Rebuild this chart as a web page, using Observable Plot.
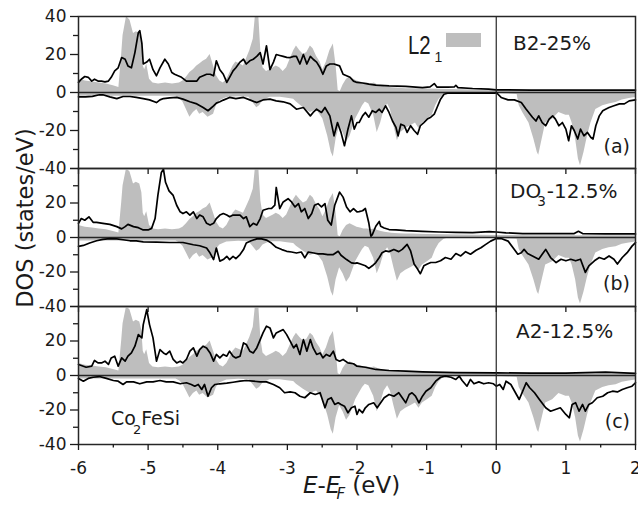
<!DOCTYPE html>
<html><head><meta charset="utf-8">
<script src="https://cdn.jsdelivr.net/npm/d3@7"></script>
<script src="https://cdn.jsdelivr.net/npm/@observablehq/plot@0.6"></script>
<style>
body{margin:0;background:#fff;}
#chart{position:relative;width:638px;height:505px;overflow:hidden;background:#fff;}
</style>
</head><body><div id="chart"></div>
<script>
// ---- DATA (energy E-EF in eV, DOS in states/eV) ----
// L2_1 reference (gray), spin up / spin down - identical in all three panels
const L21_up = [[-6,7],[-5.9,6],[-5.8,5.5],[-5.7,5],[-5.6,4.5],[-5.5,3.5],[-5.42,2.6],[-5.38,20],[-5.36,30],[-5.31,40],[-5.26,38],[-5.21,31],[-5.17,32],[-5.12,31],[-5.09,26],[-5.07,14],[-5.05,12],[-5.02,15],[-4.98,7],[-4.93,5],[-4.85,4.5],[-4.75,5],[-4.65,4.5],[-4.55,5],[-4.5,6],[-4.45,8],[-4.4,10.5],[-4.35,12],[-4.3,14],[-4.26,15],[-4.21,16.5],[-4.16,17.5],[-4.11,20],[-4.06,14],[-4.02,9],[-3.97,6],[-3.92,5],[-3.87,7],[-3.83,10],[-3.78,14],[-3.74,16],[-3.68,15],[-3.63,14],[-3.59,17.5],[-3.54,22],[-3.49,28],[-3.46,40],[-3.41,40],[-3.38,21],[-3.35,13],[-3.3,11],[-3.25,12],[-3.2,13],[-3.16,14],[-3.11,13],[-3.06,11],[-3.01,13],[-2.96,17.5],[-2.91,22],[-2.87,24.5],[-2.82,22],[-2.77,20],[-2.72,21],[-2.67,24.5],[-2.63,23],[-2.58,19],[-2.53,16],[-2.49,12],[-2.44,16],[-2.39,22],[-2.34,25.5],[-2.3,14],[-2.27,1],[-2.24,0.5],[-2.2,4],[-2.15,7],[-2.1,8],[-2.05,7],[-2,6],[-1.95,5.5],[-1.9,5],[-1.85,5],[-1.8,4.5],[-1.75,5],[-1.7,4],[-1.65,3.5],[-1.6,3],[-1.5,2.5],[-1.4,2.2],[-1.3,2],[-1.2,2],[-1,1.8],[-0.5,1.5],[0,1.2],[0.5,1],[1,1],[1.5,1],[2,1]];
const L21_down = [[-6,-2],[-5.5,-2],[-5,-2],[-4.6,-2],[-4.55,-3],[-4.5,-5],[-4.45,-9],[-4.4,-13],[-4.35,-10.5],[-4.3,-9],[-4.26,-11.5],[-4.21,-10.5],[-4.14,-13],[-4.06,-11.4],[-4.02,-7],[-3.97,-4.4],[-3.87,-2.6],[-3.7,-2.2],[-3.55,-2.5],[-3.48,-6],[-3.44,-8],[-3.4,-7],[-3.35,-4.4],[-3.25,-2.5],[-3.1,-2.5],[-3,-3],[-2.91,-3.5],[-2.87,-5],[-2.77,-8],[-2.67,-10.5],[-2.58,-9],[-2.49,-14],[-2.42,-23],[-2.37,-31.5],[-2.34,-34],[-2.3,-24.5],[-2.25,-17.5],[-2.2,-21],[-2.15,-26],[-2.1,-23],[-2.05,-17.5],[-2.02,-14],[-1.97,-10.5],[-1.92,-7],[-1.88,-5],[-1.83,-6],[-1.76,-12],[-1.71,-21],[-1.66,-16],[-1.61,-9],[-1.56,-6],[-1.52,-9],[-1.47,-17.5],[-1.42,-25.4],[-1.37,-21],[-1.3,-19],[-1.23,-17.5],[-1.16,-16],[-1.11,-19],[-1.06,-16],[-0.99,-14],[-0.92,-12],[-0.87,-7],[-0.82,-3.5],[-0.75,-1],[-0.7,-0.5],[0,-0.5],[0.3,-1],[0.33,-7],[0.38,-10.5],[0.47,-16],[0.54,-24.5],[0.59,-31.6],[0.61,-33],[0.66,-24.5],[0.71,-16],[0.81,-14],[0.9,-10.5],[1,-12],[1.05,-12],[1.09,-16],[1.14,-24.5],[1.18,-35],[1.21,-38.6],[1.26,-31.6],[1.31,-23],[1.36,-16],[1.43,-9],[1.53,-7],[1.62,-6],[1.72,-5.3],[1.81,-3.9],[1.91,-3.2],[2,-2.6]];

// (a) B2-25%
const B2_up = [[-6,5.3],[-5.96,7],[-5.91,8.4],[-5.86,8],[-5.81,6],[-5.77,7],[-5.72,6],[-5.67,6],[-5.62,5.6],[-5.57,6],[-5.53,8],[-5.48,11.4],[-5.43,13],[-5.38,18.4],[-5.33,17.5],[-5.29,14],[-5.24,13],[-5.19,21],[-5.14,31.6],[-5.12,32.5],[-5.09,26],[-5.07,15],[-5.02,16],[-4.98,17.5],[-4.93,12],[-4.88,8.8],[-4.83,13],[-4.76,17.5],[-4.71,15],[-4.66,10.5],[-4.62,9.6],[-4.57,8.8],[-4.52,8],[-4.45,6],[-4.38,6],[-4.3,6],[-4.26,8],[-4.21,8.8],[-4.16,9.6],[-4.11,9.6],[-4.06,8.8],[-4.02,16.7],[-3.97,12],[-3.92,9.6],[-3.87,5.3],[-3.83,8],[-3.78,11.4],[-3.74,13],[-3.68,16],[-3.63,17.5],[-3.59,15],[-3.54,16.7],[-3.49,17.5],[-3.44,19],[-3.39,21],[-3.35,15],[-3.3,24.6],[-3.25,12],[-3.2,16],[-3.16,20],[-3.11,19.5],[-3.06,19],[-3.01,18.5],[-2.96,18.4],[-2.91,19],[-2.87,19],[-2.82,15],[-2.77,20],[-2.72,15],[-2.67,19],[-2.63,17.5],[-2.58,16],[-2.53,13],[-2.49,9.6],[-2.44,14],[-2.39,15],[-2.33,15],[-2.25,14],[-2.2,9.6],[-2.15,8.8],[-2.1,8],[-2.05,6],[-2,5.3],[-1.92,5],[-1.83,4.4],[-1.73,3.9],[-1.54,3.5],[-1.3,3.2],[-1.06,2.6],[-0.95,3],[-0.89,4.7],[-0.85,2.8],[-0.7,2.8],[-0.6,3],[-0.58,3.8],[-0.55,2.6],[-0.34,2.1],[-0.11,1.8],[0,1.4],[0.5,1.3],[1,1.3],[1.5,1.3],[2,1.3]];
const B2_down = [[-6,-2.3],[-5.9,-2.3],[-5.8,-2],[-5.7,-1.2],[-5.65,-1.2],[-5.55,-2.3],[-5.45,-3.2],[-5.36,-2.1],[-5.26,-2.1],[-5.17,-2.6],[-5.07,-3.2],[-4.98,-3.9],[-4.88,-5.3],[-4.83,-3.9],[-4.78,-3.2],[-4.69,-2.8],[-4.59,-2.6],[-4.5,-3.5],[-4.4,-4.9],[-4.3,-6],[-4.21,-7.9],[-4.14,-9.6],[-4.06,-7],[-4.02,-5.6],[-3.97,-4.9],[-3.92,-4],[-3.83,-2.6],[-3.74,-3.2],[-3.63,-2.6],[-3.54,-3.9],[-3.44,-5.3],[-3.35,-3.9],[-3.25,-3.5],[-3.16,-4.4],[-3.06,-4.9],[-2.96,-6],[-2.87,-8.8],[-2.77,-7.9],[-2.67,-12.3],[-2.63,-10.5],[-2.58,-8.8],[-2.51,-10.5],[-2.46,-7.9],[-2.39,-12.3],[-2.33,-22.8],[-2.28,-15.8],[-2.23,-21],[-2.18,-28],[-2.13,-19.3],[-2.08,-12.3],[-2.04,-19.3],[-2,-15.8],[-1.97,-15.8],[-1.92,-12.3],[-1.88,-10.5],[-1.83,-13],[-1.78,-9.6],[-1.73,-10.5],[-1.68,-8.8],[-1.64,-10.5],[-1.59,-7],[-1.54,-10.5],[-1.49,-15],[-1.44,-18.4],[-1.41,-22.8],[-1.37,-16.7],[-1.32,-17.5],[-1.28,-21],[-1.23,-17.5],[-1.18,-20],[-1.13,-22],[-1.09,-17.5],[-1.04,-15.8],[-0.99,-14],[-0.94,-13],[-0.89,-11.4],[-0.85,-7.9],[-0.8,-3.5],[-0.75,-0.9],[-0.7,-0.4],[-0.02,-0.4],[0,0],[0.07,-2.6],[0.17,-3.9],[0.26,-3.9],[0.36,-5.3],[0.43,-8.8],[0.52,-13],[0.57,-15],[0.61,-12.3],[0.66,-15.8],[0.71,-17.5],[0.76,-14],[0.81,-12.3],[0.85,-14],[0.9,-17.5],[0.95,-15.8],[1,-19.3],[1.04,-25.4],[1.08,-17.5],[1.12,-20],[1.17,-24.5],[1.21,-19.3],[1.26,-22.8],[1.31,-21],[1.36,-23.7],[1.39,-24.5],[1.43,-17.5],[1.48,-12.3],[1.53,-9.6],[1.57,-8.8],[1.62,-7.9],[1.69,-7],[1.77,-6],[1.84,-6],[1.91,-4.4],[2,-3.9]];

// (b) DO3-12.5%
const DO3_up = [[-6,8.2],[-5.96,11],[-5.91,10],[-5.85,12],[-5.79,8.8],[-5.74,8.8],[-5.65,8.2],[-5.55,7.6],[-5.45,6.3],[-5.38,5],[-5.33,6.3],[-5.29,7.6],[-5.21,6.3],[-5.14,5.7],[-5.07,4.4],[-5,4.4],[-4.95,5.3],[-4.9,11],[-4.86,24.4],[-4.81,37.7],[-4.78,39.6],[-4.75,32],[-4.7,27],[-4.64,24.4],[-4.59,18.7],[-4.54,14.9],[-4.5,13.9],[-4.45,14.9],[-4.4,13],[-4.35,14.9],[-4.3,11],[-4.26,13],[-4.21,12],[-4.16,8.2],[-4.11,7.2],[-4.06,8.2],[-4.02,11],[-3.97,13],[-3.92,13.9],[-3.87,13],[-3.83,12],[-3.78,13],[-3.74,13],[-3.68,13],[-3.63,11],[-3.59,12],[-3.54,6.3],[-3.49,8.2],[-3.44,7.2],[-3.39,11],[-3.35,15.8],[-3.27,16.8],[-3.23,16.8],[-3.18,18.7],[-3.16,29],[-3.11,16.8],[-3.06,20.6],[-2.99,22.5],[-2.94,20.6],[-2.89,17.7],[-2.84,19.6],[-2.8,14.9],[-2.75,16.8],[-2.7,11],[-2.65,13.9],[-2.61,18.7],[-2.56,19.6],[-2.51,17.7],[-2.46,19.6],[-2.42,10],[-2.37,7.2],[-2.32,18.7],[-2.25,26.3],[-2.2,23.4],[-2.15,17.7],[-2.1,14.9],[-2.05,16.8],[-2,14.9],[-1.97,15],[-1.92,15.5],[-1.88,16.8],[-1.83,8.4],[-1.8,0.8],[-1.78,1.7],[-1.73,6.5],[-1.68,9.3],[-1.66,6.5],[-1.61,5.5],[-1.54,4.6],[-1.44,4.4],[-1.3,4],[-1.06,3.6],[-0.82,3.2],[-0.58,3],[-0.34,2.8],[-0.1,3.4],[0,3.2],[0.14,2.7],[0.38,2.3],[0.61,2.3],[1.12,2.3],[1.18,3.6],[1.24,2.3],[1.57,2.1],[2,2.1]];
const DO3_down = [[-6,-5.1],[-5.93,-4.6],[-5.84,-3.2],[-5.74,-1.9],[-5.65,-1.1],[-5.55,-0.6],[-5.45,-0.8],[-5.36,-1.3],[-5.26,-1.9],[-5.17,-2],[-5.07,-2.5],[-4.88,-2.7],[-4.69,-2.9],[-4.5,-2.9],[-4.35,-4.2],[-4.26,-4.8],[-4.16,-6.1],[-4.11,-9],[-4.06,-12.8],[-4.02,-6.1],[-3.97,-13.7],[-3.92,-12.8],[-3.87,-10.9],[-3.83,-12.8],[-3.78,-10.9],[-3.74,-12.2],[-3.68,-9.9],[-3.63,-7],[-3.59,-3.2],[-3.52,-1.9],[-3.44,-0.8],[-3.37,-0.8],[-3.3,-1.5],[-3.23,-3.2],[-3.16,-5.7],[-3.08,-7],[-3.01,-8],[-2.94,-8.4],[-2.87,-9],[-2.8,-8.4],[-2.75,-11.8],[-2.7,-8.4],[-2.62,-9],[-2.56,-9.5],[-2.49,-9.5],[-2.42,-9.9],[-2.34,-9.9],[-2.27,-8],[-2.23,-10.3],[-2.15,-12.8],[-2.08,-14.7],[-2.03,-15],[-2,-14.7],[-1.95,-15.4],[-1.88,-16.4],[-1.83,-17.9],[-1.78,-16.4],[-1.73,-14.5],[-1.68,-11.6],[-1.64,-8.8],[-1.59,-7.8],[-1.54,-8.2],[-1.47,-6.9],[-1.4,-8.2],[-1.35,-6.9],[-1.28,-4],[-1.23,-7.8],[-1.18,-15.4],[-1.13,-18.3],[-1.09,-21],[-1.04,-16.4],[-0.99,-15.4],[-0.94,-14.5],[-0.87,-14.5],[-0.8,-13.5],[-0.73,-11.6],[-0.65,-12.6],[-0.58,-9.3],[-0.51,-10.7],[-0.44,-8.2],[-0.37,-9.7],[-0.29,-7.4],[-0.22,-5.9],[-0.15,-4],[-0.08,-2.1],[0,-0.6],[0.07,-0.6],[0.17,-2.1],[0.26,-6.9],[0.31,-9.7],[0.36,-8.8],[0.4,-6.9],[0.45,-9.3],[0.52,-10.7],[0.61,-12.6],[0.66,-9.7],[0.71,-6.9],[0.78,-11.6],[0.86,-14.5],[0.93,-12.6],[1,-13.5],[1.07,-12.6],[1.14,-13.5],[1.21,-12.6],[1.28,-20.2],[1.33,-16.4],[1.41,-13.5],[1.48,-11.6],[1.55,-12.6],[1.62,-10.7],[1.69,-12.6],[1.74,-15.4],[1.81,-11.6],[1.88,-8.8],[1.95,-5],[2,-3]];

// (c) A2-12.5%
const A2_up = [[-6,6.4],[-5.93,5.4],[-5.89,4.8],[-5.81,5.4],[-5.77,8.7],[-5.72,7.3],[-5.67,7.3],[-5.62,8.3],[-5.57,6.4],[-5.53,10.2],[-5.48,11.2],[-5.43,5.4],[-5.38,10.2],[-5.33,8.3],[-5.29,11.2],[-5.24,13.1],[-5.19,17],[-5.14,23.7],[-5.09,21.8],[-5.07,29.5],[-5.02,38.2],[-4.98,29.5],[-4.93,21.8],[-4.88,8.3],[-4.83,15],[-4.78,13.1],[-4.74,12.2],[-4.69,14.1],[-4.64,9.3],[-4.59,7.3],[-4.54,8.3],[-4.5,7.3],[-4.45,9.3],[-4.4,14.1],[-4.35,16],[-4.3,11.2],[-4.26,15],[-4.21,17],[-4.16,16],[-4.11,13.1],[-4.06,8.3],[-4.02,12.2],[-3.97,10.2],[-3.92,12.2],[-3.87,11.2],[-3.83,14.1],[-3.78,11.2],[-3.74,10.2],[-3.68,11.2],[-3.63,18.9],[-3.59,18],[-3.54,14.1],[-3.49,13.1],[-3.44,16],[-3.39,20.8],[-3.35,24.7],[-3.3,28.6],[-3.25,27.6],[-3.2,21.8],[-3.16,24.7],[-3.11,25.7],[-3.06,26.6],[-3.01,23.7],[-2.96,19.9],[-2.91,16],[-2.87,18],[-2.82,12.2],[-2.77,20.8],[-2.72,14.1],[-2.67,20.8],[-2.63,16],[-2.58,12.2],[-2.53,13.1],[-2.49,10.2],[-2.44,12.2],[-2.39,11.2],[-2.34,14.1],[-2.3,9.3],[-2.25,8.3],[-2.2,9.3],[-2.13,7.3],[-2.05,6.8],[-2,5.4],[-1.88,4.8],[-1.73,3.5],[-1.54,2.9],[-1.3,2.5],[-1.06,2.1],[-0.58,1.7],[0,1.5],[0.5,1.4],[1,1.4],[1.57,2],[2,1.2]];
const A2_down = [[-6,-1.7],[-5.93,-3.3],[-5.86,-1.7],[-5.79,-1],[-5.7,-0.6],[-5.6,-1.7],[-5.5,-2.9],[-5.43,-3.3],[-5.36,-5.2],[-5.31,-3.7],[-5.21,-3.7],[-5.12,-4.8],[-5.02,-3.7],[-4.93,-3.7],[-4.83,-2.9],[-4.74,-3.7],[-4.64,-3.7],[-4.54,-4.8],[-4.45,-4.2],[-4.38,-5.2],[-4.33,-6.2],[-4.28,-5.2],[-4.23,-8.1],[-4.19,-5.2],[-4.14,-12],[-4.09,-7.1],[-4.04,-5.2],[-3.97,-4.8],[-3.87,-4.4],[-3.78,-3.9],[-3.68,-3.3],[-3.59,-2.9],[-3.49,-3.3],[-3.39,-3.7],[-3.3,-3.7],[-3.2,-5.2],[-3.11,-7.1],[-3.04,-10],[-2.96,-9.5],[-2.89,-10],[-2.82,-12],[-2.75,-12.9],[-2.67,-10],[-2.6,-11],[-2.53,-10],[-2.46,-18.7],[-2.42,-13.9],[-2.37,-12.9],[-2.32,-16.8],[-2.27,-15.8],[-2.23,-16.8],[-2.18,-17.8],[-2.13,-21.6],[-2.08,-18.7],[-2.03,-17.8],[-2,-22.6],[-1.97,-19.7],[-1.92,-21.6],[-1.88,-18.7],[-1.83,-16.8],[-1.76,-15.8],[-1.71,-18.7],[-1.66,-15.8],[-1.61,-12.9],[-1.54,-11],[-1.47,-12],[-1.4,-10],[-1.35,-12.9],[-1.3,-15.8],[-1.25,-11],[-1.21,-10],[-1.16,-12],[-1.11,-15.8],[-1.06,-12],[-1.01,-9.1],[-0.94,-7.1],[-0.87,-3.3],[-0.8,-1],[-0.73,-0.4],[-0.65,-1],[-0.58,-2.3],[-0.53,-0.4],[-0.49,-2.9],[-0.42,-6.2],[-0.37,-2.3],[-0.32,-4.8],[-0.25,-3.7],[-0.18,-4.8],[-0.11,-4.2],[-0.04,-4.8],[0,-6.2],[0.05,-5.2],[0.1,-8.1],[0.14,-3.3],[0.21,-5.2],[0.29,-11],[0.33,-13.9],[0.38,-9.1],[0.43,-4.2],[0.48,-7.1],[0.55,-10],[0.62,-13.9],[0.71,-18.7],[0.78,-20.7],[0.85,-19.7],[0.92,-18.7],[1,-22.6],[1.05,-24.5],[1.09,-16.8],[1.14,-15.8],[1.19,-20.7],[1.24,-16.8],[1.28,-20.7],[1.33,-16.8],[1.38,-15.8],[1.45,-12.9],[1.53,-12],[1.6,-10],[1.67,-9.1],[1.74,-9.5],[1.81,-8.1],[1.88,-7.1],[1.95,-6.2],[2,-4.2]];

const panelSeries = ["B2-25%", "DO3-12.5%", "A2-12.5%"];
const panelTags = ["(a)", "(b)", "(c)"];
const yMajorTicks = [40, 20, 0, -20, -40];
const yMinorTicks = [30, 10, -10, -30];
const xMajorTicks = [-6, -5, -4, -3, -2, -1, 0, 1, 2];
const xMinorTicks = [-5.5, -4.5, -3.5, -2.5, -1.5, -0.5, 0.5, 1.5];

// ---- LAYOUT / STYLE ----
const W = 638, LEFT = 78, RIGHT = 635;
const GRAY = "#bebebe", INK = "#1a1a1a";
const layout = [{top: 16, bottom: 168}, {top: 168, bottom: 306}, {top: 306, bottom: 444}];
const ups = [B2_up, DO3_up, A2_up];
const downs = [B2_down, DO3_down, A2_down];
const chart = document.getElementById("chart");
const X = d => d[0], Y = d => d[1];

layout.forEach((L, i) => {
  const last = i === 2;
  const mt = 12, mb = last ? 45 : 12;
  const marks = [
    Plot.areaY(L21_up, {x: X, y: Y, fill: GRAY}),
    Plot.areaY(L21_down, {x: X, y: Y, fill: GRAY}),
    Plot.ruleY([0], {stroke: "#262626", strokeWidth: 1.5}),
    Plot.line(ups[i], {x: X, y: Y, stroke: "#000", strokeWidth: 1.7}),
    Plot.line(downs[i], {x: X, y: Y, stroke: "#000", strokeWidth: 1.7}),
    Plot.ruleX([0], {stroke: "#262626", strokeWidth: 1.2}),
    Plot.frame({stroke: "#262626", strokeWidth: 1.5}),
    Plot.axisY(yMajorTicks, {anchor: "left", tickSize: 8, tickPadding: 4, strokeWidth: 1.3, label: null,
      tickFormat: d => (i > 0 && d === 40) ? "" : String(d)}),
    Plot.axisY(yMinorTicks, {anchor: "left", tickSize: 5, strokeWidth: 1.3, label: null, tickFormat: () => ""}),
    Plot.axisX(xMajorTicks, {anchor: "bottom", tickSize: 6, tickPadding: 11, strokeWidth: 1.3, label: null,
      tickFormat: last ? (d => String(d)) : (() => "")})
  ];
  if (last) marks.push(Plot.axisX(xMinorTicks, {anchor: "bottom", tickSize: 3.5, strokeWidth: 1.3, label: null, tickFormat: () => ""}));
  const svg = Plot.plot({
    width: W,
    height: (L.bottom - L.top) + mt + mb,
    marginLeft: LEFT, marginRight: W - RIGHT, marginTop: mt, marginBottom: mb,
    x: {domain: [-6, 2]},
    y: {domain: [-40, 40]},
    style: {background: "transparent", overflow: "visible", fontFamily: "DejaVu Sans", fontSize: "17px", color: INK},
    marks
  });
  svg.style.position = "absolute";
  svg.style.left = "0px";
  svg.style.top = (L.top - mt) + "px";
  chart.appendChild(svg);
});

// ---- TEXT OVERLAY (titles, panel labels, legend) ----
const ov = d3.create("svg").attr("width", W).attr("height", 505)
  .style("position", "absolute").style("left", "0px").style("top", "0px")
  .style("font-family", "DejaVu Sans").attr("fill", INK);

ov.append("text").attr("transform", "translate(33,218) rotate(-90)").attr("text-anchor", "middle")
  .attr("font-size", 22.5).text("DOS (states/eV)");

const xt = ov.append("text").attr("x", 303).attr("y", 493).attr("font-size", 23);
xt.append("tspan").attr("font-style", "italic").text("E");
xt.append("tspan").text("-");
xt.append("tspan").attr("font-style", "italic").text("E");
xt.append("tspan").attr("font-style", "italic").attr("font-size", 15).attr("dy", 6).attr("dx", -4).text("F");
xt.append("tspan").attr("dy", -6).text(" (eV)");

// panel series labels
const lab = [[513, 50], [510, 198], [516, 338]];
panelSeries.forEach((s, i) => {
  const t = ov.append("text").attr("x", lab[i][0]).attr("y", lab[i][1]).attr("font-size", 20);
  const m = s.match(/^(DO)(3)(.*)$/);
  if (m) {
    t.append("tspan").text(m[1]);
    t.append("tspan").attr("font-size", 13.5).attr("dy", 8).attr("dx", -4).text(m[2]);
    t.append("tspan").attr("dy", -8).attr("dx", 1).text(m[3]);
  } else t.text(s);
});
const tagY = [152.5, 289.5, 427.5];
panelTags.forEach((s, i) => ov.append("text").attr("x", 630).attr("y", tagY[i]).attr("text-anchor", "end")
  .attr("font-size", 19).text(s));

// compound
const cf = ov.append("text").attr("x", 111).attr("y", 424.5).attr("font-size", 19);
cf.append("tspan").text("Co");
cf.append("tspan").attr("font-size", 13).attr("dy", 9).attr("dx", -3).text("2");
cf.append("tspan").attr("dy", -9).text("FeSi");

// legend L2_1
ov.append("text").attr("transform", "translate(408,53.5) scale(0.8,1)")
  .attr("font-family", "Liberation Sans").attr("font-size", 25.5).text("L2");
ov.append("text").attr("x", 434.5).attr("y", 62).attr("font-family", "Liberation Sans").attr("font-size", 14).text("1");
ov.append("rect").attr("x", 446).attr("y", 33).attr("width", 35).attr("height", 14).attr("fill", GRAY);

chart.appendChild(ov.node());
</script>
</body></html>
